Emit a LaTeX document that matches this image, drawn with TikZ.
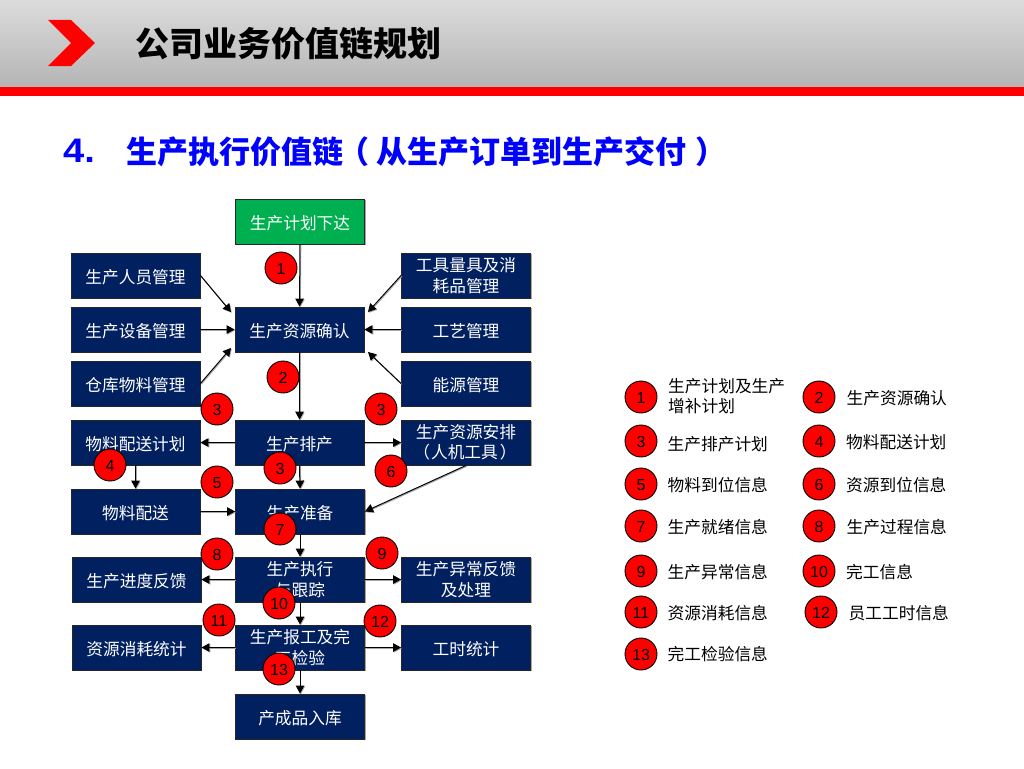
\documentclass[tikz,border=0pt]{standalone}
\usepackage{fontspec}
\setmainfont{Noto Sans CJK SC}
\newfontfamily\latinf{Liberation Sans}
\newfontfamily\latinwide[FakeStretch=1.12]{Liberation Sans}
\usetikzlibrary{arrows.meta,shadows}
\definecolor{navy}{HTML}{002060}
\definecolor{grn}{HTML}{00B050}
\tikzset{
  x=1pt,y=-1pt,
  boxbase/.style={draw=black!85,line width=0.9pt,text=white,minimum width=129pt,minimum height=45pt,inner sep=0pt,align=center,
    font=\fontsize{16.7}{20.5}\selectfont,execute at begin node={\rule{0pt}{18pt}},
    drop shadow={shadow xshift=1.2pt,shadow yshift=-1.2pt,fill=black,opacity=.35}},
  navybox/.style={boxbase,fill=navy},
  greenbox/.style={boxbase,fill=grn},
  conn/.style={draw=black,line width=1pt,-{Triangle[length=8pt,width=8.5pt]},
    preaction={draw=black!35,line width=1pt,transform canvas={xshift=0.8pt,yshift=-0.8pt}}},
  badge/.style={circle,draw=black,line width=0.9pt,fill=red,minimum size=32pt,inner sep=0pt,text=black,
    font=\latinf\fontsize{16}{16}\selectfont,execute at begin node={\rule{0pt}{13.4pt}}},
  legend/.style={anchor=west,inner sep=0pt,align=left,text=black,font=\fontsize{16.7}{20}\selectfont},
}
\begin{document}
\begin{tikzpicture}
\useasboundingbox (0,0) rectangle (1024,768);
\fill[white] (0,0) rectangle (1024,768);
\shade[top color=black!14,bottom color=black!29] (0,0) rectangle (1024,87);
\fill[red] (0,87) rectangle (1024,96);
\fill[red] (48,20) -- (71,20) -- (95,43) -- (71,66) -- (48,66) -- (71,43) -- cycle;
\node[anchor=west,inner sep=0pt,font=\fontsize{34}{34}\selectfont\bfseries] (title) at (135,44) {公司业务价值链规划};
\node[anchor=west,inner sep=0pt,text=blue,font=\latinwide\fontsize{34}{34}\selectfont\bfseries] (num) at (63,151) {4.};
\node[anchor=west,inner sep=0pt,text=blue,font=\fontsize{31}{31}\selectfont\bfseries] (sub) at (126.5,152) {生产执行价值链\kern-5pt（\kern7pt从生产订单到生产交付\kern9pt）};

% boxes
\node[greenbox] (green) at (300,221.5) {生产计划下达};
\node[navybox] (people) at (135.5,275.5) {生产人员管理};
\node[navybox] (equip) at (135.5,329.5) {生产设备管理};
\node[navybox] (ware) at (135.5,383.5) {仓库物料管理};
\node[navybox] (wplan) at (135.5,442.5) {物料配送计划};
\node[navybox] (deliv) at (135.5,511.5) {物料配送};
\node[navybox] (prog) at (136.5,579.5) {生产进度反馈};
\node[navybox] (cons) at (136.5,647.5) {资源消耗统计};
\node[navybox] (res) at (299.5,329.5) {生产资源确认};
\node[navybox] (sched) at (299.5,442.5) {生产排产};
\node[navybox] (prep) at (300,511.5) {生产准备};
\node[navybox] (exec) at (300,579.5) {生产执行\\与跟踪};
\node[navybox] (rep) at (300,647.5) {生产报工及完\\工检验};
\node[navybox] (store) at (300,716.5) {产成品入库};
\node[navybox] (tool) at (466,275.5) {工具量具及消\\耗品管理};
\node[navybox] (craft) at (466,329.5) {工艺管理};
\node[navybox] (energy) at (466,383.5) {能源管理};
\node[navybox] (arr) at (466,442.5) {生产资源安排\\\kern-2pt（\kern1pt人机工具\kern2pt）};
\node[navybox] (exc) at (466,579.5) {生产异常反馈\\及处理};
\node[navybox] (hours) at (466,647.5) {工时统计};

% free ends
\coordinate (e1) at (231,312);
\coordinate (e2) at (231,348);
\coordinate (e3) at (368,312);
\coordinate (e4) at (368,352);

% connectors
\draw[conn] (green.south) -- (res.north);
\draw[conn] (people.east) -- (e1);
\draw[conn] (equip.east) -- (res.west);
\draw[conn] (ware.east) -- (e2);
\draw[conn] (tool.west) -- (e3);
\draw[conn] (craft.west) -- (res.east);
\draw[conn] (energy.west) -- (e4);
\draw[conn] (res.south) -- (sched.north);
\draw[conn] (sched.west) -- (wplan.east);
\draw[conn] (sched.east) -- (arr.west);
\draw[conn] (wplan.south) -- (deliv.north);
\draw[conn] (deliv.east) -- (prep.west);
\draw[conn] (sched.south) -- (prep.north);
\draw[conn] (arr.south) -- (prep.east);
\draw[conn] (prep.south) -- (exec.north);
\draw[conn] (exec.west) -- (prog.east);
\draw[conn] (exec.east) -- (exc.west);
\draw[conn] (exec.south) -- (rep.north);
\draw[conn] (rep.west) -- (cons.east);
\draw[conn] (rep.east) -- (hours.west);
\draw[conn] (rep.south) -- (store.north);

% badges on the chart
\node[badge] (c1) at (281,268) {1};
\node[badge] (c2) at (283,377) {2};
\node[badge] (c3a) at (217,409) {3};
\node[badge] (c3b) at (381,409) {3};
\node[badge] (c3c) at (280,468) {3};
\node[badge] (c4) at (110,465) {4};
\node[badge] (c5) at (217,482) {5};
\node[badge] (c6) at (391,471) {6};
\node[badge] (c7) at (280,529) {7};
\node[badge] (c8) at (217,554) {8};
\node[badge] (c9) at (382,553) {9};
\node[badge] (c10) at (279,603) {10};
\node[badge] (c11) at (219,620) {11};
\node[badge] (c12) at (380,621) {12};
\node[badge] (c13) at (279,669) {13};

% legend
\node[badge] (l1) at (641,397) {1};
\node[legend] (t1) at (668,396) {生产计划及生产\\增补计划};
\node[badge] (l2) at (819,397) {2};
\node[legend] (t2) at (846.5,398) {生产资源确认};
\node[badge] (l3) at (641,441) {3};
\node[legend] (t3) at (667.5,444) {生产排产计划};
\node[badge] (l4) at (819,441) {4};
\node[legend] (t4) at (846,442) {物料配送计划};
\node[badge] (l5) at (641,484) {5};
\node[legend] (t5) at (667.5,485) {物料到位信息};
\node[badge] (l6) at (819,484) {6};
\node[legend] (t6) at (846,485) {资源到位信息};
\node[badge] (l7) at (641,526) {7};
\node[legend] (t7) at (667.5,527) {生产就绪信息};
\node[badge] (l8) at (819,526) {8};
\node[legend] (t8) at (846.5,527) {生产过程信息};
\node[badge] (l9) at (641,571) {9};
\node[legend] (t9) at (667.5,572) {生产异常信息};
\node[badge] (l10) at (819,571) {10};
\node[legend] (t10) at (846,572) {完工信息};
\node[badge] (l11) at (641,612) {11};
\node[legend] (t11) at (667.5,613) {资源消耗信息};
\node[badge] (l12) at (821,612) {12};
\node[legend] (t12) at (848.5,613) {员工工时信息};
\node[badge] (l13) at (641,654) {13};
\node[legend] (t13) at (667.5,654) {完工检验信息};
\end{tikzpicture}
\end{document}
